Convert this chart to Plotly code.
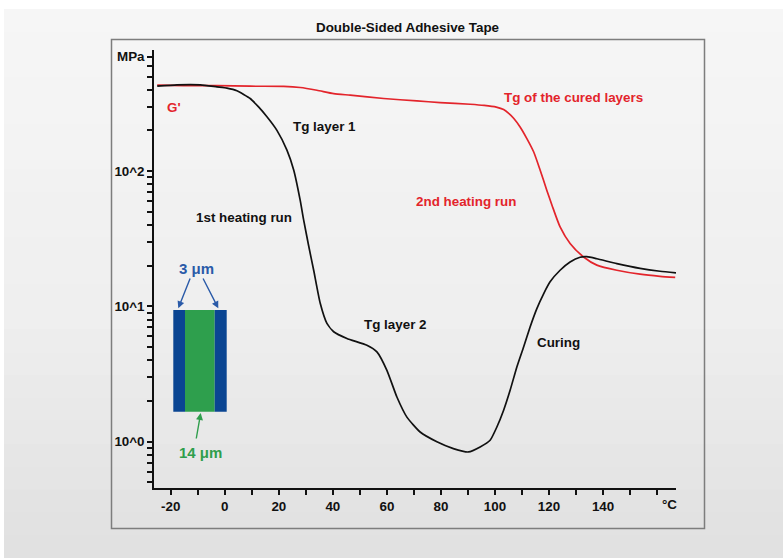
import plotly.graph_objects as go

# ---------------- data ----------------
first_run_T = [-25, -17.7, -9, -2.9, 0.8, 4.5, 9.4, 12.5, 15.6, 19.3, 23, 25.5, 27.9,
               29.2, 31, 32.9, 35.3, 37.8, 40.3, 45.2, 52.6, 56.3, 60, 63.7, 67.4,
               72.3, 78.5, 84.6, 90.2, 94.5, 98.2, 100.7, 103.2, 105.6, 108.1, 110.6,
               113, 115.5, 118, 120.4, 124.1, 127.8, 131.5, 134, 137.7, 145.1, 153.7,
               161.1, 167]
first_run_G = [424, 434, 434, 419, 410, 392, 344, 298, 252, 200, 143, 102, 61,
               43.4, 28.3, 18.5, 10.6, 7.5, 6.5, 5.8, 5.16, 4.61, 3.37, 2.14, 1.52,
               1.18, 1.0, 0.89, 0.84, 0.915, 1.025, 1.285, 1.71, 2.40, 3.57, 5.02,
               7.05, 9.64, 12.4, 15.2, 18.5, 21.3, 23.1, 23.3, 22.5, 20.7, 19.1,
               18.2, 17.7]

second_run_T = [-25, -15.2, -2.9, 9.4, 21.8, 27.9, 34.1, 40.3, 46.4, 58.8, 71.1, 79.7,
                90.8, 96, 100.5, 103.2, 105.2, 106.9, 109.3, 111.8, 114.3, 116.7, 119.2,
                121.1, 124.1, 127.8, 132.8, 137.7, 145.1, 153.7, 161.1, 166.7]
second_run_G = [432, 428, 428, 424, 423, 415, 396, 374, 364, 344, 330, 321,
                312, 306, 297, 285, 266, 246, 212, 174, 139, 102, 72,
                56, 38.7, 29.2, 23.2, 20.2, 18.5, 17.3, 16.7, 16.4]

x_tick_vals = [-20, -10, 0, 10, 20, 30, 40, 50, 60, 70, 80, 90, 100, 110, 120, 130, 140, 150, 160]
x_tick_text = ["-20", "", "0", "", "20", "", "40", "", "60", "", "80", "", "100", "", "120", "", "140", "", ""]

y_tick_vals = [0.5, 0.6, 0.7, 0.8, 0.9, 1, 2, 3, 4, 5, 6, 7, 8, 9,
               10, 20, 30, 40, 50, 60, 70, 80, 90, 100, 200, 300, 400, 500, 600, 700]
y_tick_text = ["", "", "", "", "", "10^0", "", "", "", "", "", "", "", "",
               "10^1", "", "", "", "", "", "", "", "", "10^2", "", "", "", "", "", "MPa"]

title_text = "Double-Sided Adhesive Tape"
unit_x_text = "°C"

# ---------------- layout helpers ----------------
W, H = 783, 558
ML, MR, MT, MB = 154, 107, 50, 70
PW = W - ML - MR
PH = H - MT - MB
FONT = "Liberation Sans, Arial, sans-serif"
RED = "#e3242b"
BLUE = "#2a5aa8"
GREEN = "#2f9e4c"


def px(x):
    return (x - ML) / PW


def py(y):
    return (H - MB - y) / PH


fig = go.Figure()
fig.add_trace(go.Scatter(x=second_run_T, y=second_run_G, mode="lines",
                         line=dict(color=RED, width=1.7, shape="spline", smoothing=0.6),
                         hoverinfo="skip", showlegend=False))
fig.add_trace(go.Scatter(x=first_run_T, y=first_run_G, mode="lines",
                         line=dict(color="#111111", width=1.7, shape="spline", smoothing=0.5),
                         hoverinfo="skip", showlegend=False))

shapes = []


def lerp(c1, c2, t):
    return "#%02x%02x%02x" % tuple(int(round(a + (b - a) * t)) for a, b in zip(c1, c2))


# soft vertical gradient background
top_c, mid_c, bot_c = (246, 246, 246), (239, 239, 239), (224, 224, 224)
n = 24
y0 = 9
for i in range(n):
    ya = y0 + (H - y0) * i / n
    yb = y0 + (H - y0) * (i + 1) / n + 1
    t = (i + 0.5) / n
    col = lerp(top_c, mid_c, t / 0.55) if t < 0.55 else lerp(mid_c, bot_c, (t - 0.55) / 0.45)
    shapes.append(dict(type="rect", xref="paper", yref="paper", layer="below",
                       x0=px(4), x1=px(W), y0=py(yb), y1=py(ya),
                       line=dict(width=0), fillcolor=col))
# outer frame
shapes.append(dict(type="rect", xref="paper", yref="paper", layer="below",
                   x0=px(111.5), x1=px(704.5), y0=py(528.5), y1=py(39.5),
                   line=dict(color="#7d7d7d", width=1.5), fillcolor="rgba(0,0,0,0)"))
# layer diagram inset
for xa, xb, col in [(173.3, 185, "#0a4592"), (185, 214.7, "#2e9f4d"), (214.7, 226.7, "#0a4592")]:
    shapes.append(dict(type="rect", xref="paper", yref="paper", layer="above",
                       x0=px(xa), x1=px(xb), y0=py(411.7), y1=py(310),
                       line=dict(width=0), fillcolor=col))

ann = []


def label(text, x, y, color="#111111", size=13.4):
    ann.append(dict(text=text, xref="paper", yref="paper", x=px(x), y=py(y),
                    xanchor="center", yanchor="middle", showarrow=False,
                    font=dict(family=FONT, size=size, color=color, weight="bold")))


label(title_text, 407.5, 28)
label("G'", 173.5, 107.8, RED)
label("Tg layer 1", 324.5, 126.3)
label("Tg of the cured layers", 573.5, 97.3, RED)
label("2nd heating run", 466, 201, RED)
label("1st heating run", 243.6, 217)
label("Tg layer 2", 395, 324.6)
label("Curing", 558, 342.3)
label("3 μm", 196.5, 268, BLUE, 15)
label("14 μm", 200.5, 452, GREEN, 15)
label(unit_x_text, 669, 504.5)


def arrow(hx, hy, tx, ty, color):
    ann.append(dict(text="", xref="paper", yref="paper", x=px(hx), y=py(hy),
                    ax=tx - hx, ay=ty - hy, showarrow=True, arrowhead=2,
                    arrowsize=1, arrowwidth=1.4, arrowcolor=color))


arrow(178.3, 308.3, 190.7, 277, BLUE)
arrow(218.3, 308.3, 202.3, 277, BLUE)
arrow(200.7, 413, 196, 440, GREEN)

tickfont = dict(family=FONT, size=13.4, color="#111111", weight="bold")
fig.update_layout(
    width=W, height=H,
    margin=dict(l=ML, r=MR, t=MT, b=MB, pad=0),
    paper_bgcolor="#ffffff", plot_bgcolor="rgba(0,0,0,0)",
    shapes=shapes, annotations=ann, showlegend=False,
    xaxis=dict(range=[-26.2, 167.0], tickmode="array", tickvals=x_tick_vals,
               ticktext=x_tick_text, ticks="outside", ticklen=5, tickwidth=1.5,
               tickcolor="#111111", showline=True, linecolor="#111111", linewidth=1.5,
               showgrid=False, zeroline=False, tickfont=tickfont),
    yaxis=dict(type="log", range=[-0.342, 2.895], tickmode="array", tickvals=y_tick_vals,
               ticktext=y_tick_text, ticks="outside", ticklen=5, tickwidth=1.5,
               tickcolor="#111111", showline=True, linecolor="#111111", linewidth=1.5,
               showgrid=False, zeroline=False, tickfont=tickfont),
)

fig.write_html("out.html")
